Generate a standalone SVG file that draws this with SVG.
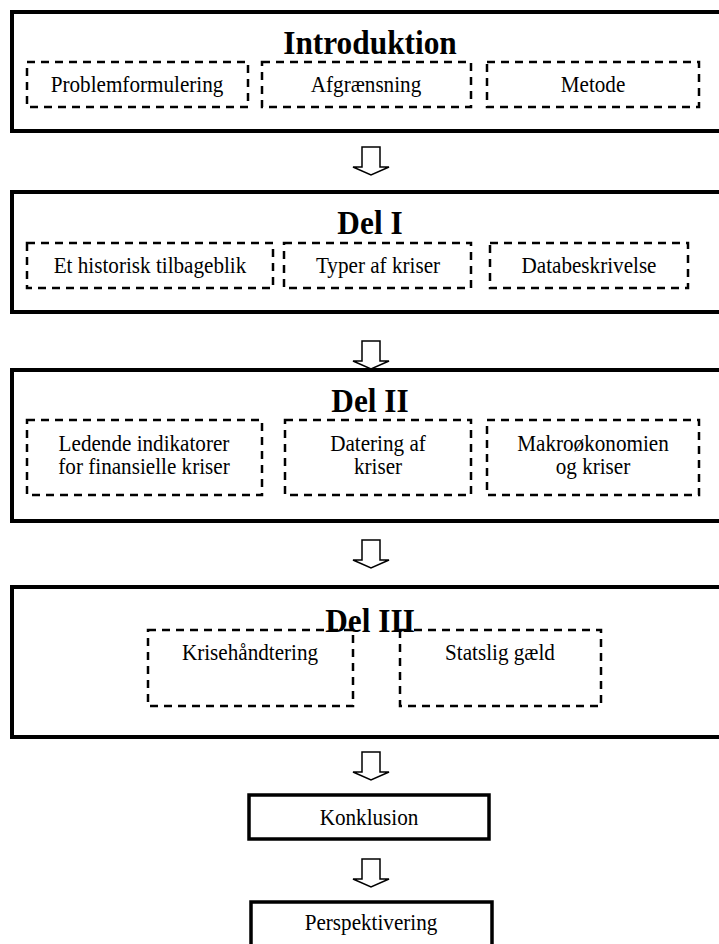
<svg xmlns="http://www.w3.org/2000/svg" width="719" height="944" viewBox="0 0 719 944">
<style>
.outer{fill:#fff;stroke:#000;stroke-width:4}
.small{fill:#fff;stroke:#000;stroke-width:3.5}
.dash{fill:none;stroke:#000;stroke-width:2.5;stroke-dasharray:8 6}
.title{font-family:"Liberation Serif","Times New Roman",serif;font-weight:bold;font-size:33px;text-anchor:middle;fill:#000}
.txt{font-family:"Liberation Serif","Times New Roman",serif;font-size:22.5px;text-anchor:middle;fill:#000}
.arrow{fill:#fff;stroke:#000;stroke-width:1.5;stroke-linejoin:miter}
</style>
<defs>
<path id="arr" d="M-9,0 V20 H-18 L0,28 L18,20 H9 V0 Z"/>
</defs>
<rect width="719" height="944" fill="#fff"/>

<g id="introduktion">
<rect class="outer" x="12" y="12" width="720" height="119"/>
<text class="title" transform="translate(370,54) scale(0.95,1)">Introduktion</text>
<rect class="dash" x="27" y="62" width="221" height="45"/>
<text class="txt" transform="translate(137,92) scale(0.94,1)">Problemformulering</text>
<rect class="dash" x="262" y="62" width="209" height="45"/>
<text class="txt" transform="translate(366,92) scale(0.94,1)">Afgrænsning</text>
<rect class="dash" x="487" y="62" width="212" height="45"/>
<text class="txt" transform="translate(593,92) scale(0.94,1)">Metode</text>
</g>

<g id="del1">
<rect class="outer" x="12" y="192" width="720" height="120"/>
<text class="title" transform="translate(370,234) scale(0.95,1)">Del I</text>
<rect class="dash" x="27" y="243" width="246" height="45"/>
<text class="txt" transform="translate(150,273) scale(0.94,1)">Et historisk tilbageblik</text>
<rect class="dash" x="284" y="243" width="187" height="45"/>
<text class="txt" transform="translate(378,273) scale(0.94,1)">Typer af kriser</text>
<rect class="dash" x="490" y="243" width="198" height="45"/>
<text class="txt" transform="translate(589,273) scale(0.94,1)">Databeskrivelse</text>
</g>

<g id="del2">
<rect class="outer" x="12" y="370" width="720" height="151"/>
<text class="title" transform="translate(370,412) scale(0.95,1)">Del II</text>
<rect class="dash" x="27" y="420" width="235" height="75"/>
<text class="txt" transform="translate(144,451) scale(0.94,1)">Ledende indikatorer</text>
<text class="txt" transform="translate(144,474) scale(0.94,1)">for finansielle kriser</text>
<rect class="dash" x="285" y="420" width="186" height="75"/>
<text class="txt" transform="translate(378,451) scale(0.94,1)">Datering af</text>
<text class="txt" transform="translate(378,474) scale(0.94,1)">kriser</text>
<rect class="dash" x="487" y="420" width="212" height="75"/>
<text class="txt" transform="translate(593,451) scale(0.94,1)">Makroøkonomien</text>
<text class="txt" transform="translate(593,474) scale(0.94,1)">og kriser</text>
</g>

<g id="del3">
<rect class="outer" x="12" y="587" width="720" height="150"/>
<rect class="dash" x="148" y="630" width="205" height="76"/>
<text class="txt" transform="translate(250,660) scale(0.94,1)">Krisehåndtering</text>
<rect class="dash" x="400" y="630" width="201" height="76"/>
<text class="txt" transform="translate(500,660) scale(0.94,1)">Statslig gæld</text>
<text class="title" transform="translate(370,632) scale(0.95,1)">Del III</text>
</g>

<g id="konklusion">
<rect class="small" x="249" y="795" width="240" height="44"/>
<text class="txt" transform="translate(369,825) scale(0.94,1)">Konklusion</text>
</g>

<g id="perspektivering">
<rect class="small" x="251" y="902" width="241" height="50"/>
<text class="txt" transform="translate(371,930) scale(0.94,1)">Perspektivering</text>
</g>

<g id="connectors">
<use href="#arr" class="arrow" x="371" y="147"/>
<use href="#arr" class="arrow" x="371" y="341"/>
<use href="#arr" class="arrow" x="371" y="540"/>
<use href="#arr" class="arrow" x="371" y="752"/>
<use href="#arr" class="arrow" x="371" y="859"/>
</g>
</svg>
